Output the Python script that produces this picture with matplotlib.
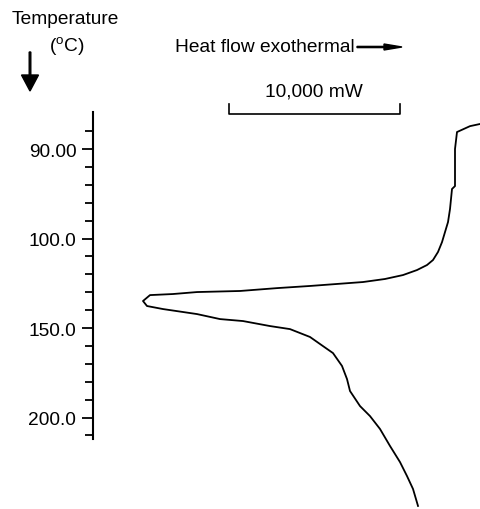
import numpy as np
import matplotlib.pyplot as plt

plt.rcParams['font.family'] = ['Liberation Sans', 'DejaVu Sans']

# 温度轴刻度 (刻度位置为图上的等距格)
tick_pos = [0, 5, 10, 15]
tick_labels = ['90.00', '100.0', '150.0', '200.0']

# 热流曲线 (mW, 刻度格位置)
heat_flow = [22640, 22055, 21294, 21177, 21177, 21002, 20885, 20768, 20592,
             20417, 20183, 19890, 19539, 18954, 18135, 17082, 15795, 12695,
             10764, 8600, 6084, 4680, 3335, 2925, 3159, 4095, 6084, 7430,
             8775, 10355, 11525, 12695, 13455, 14040, 14567, 14859, 15035,
             15620, 16205, 16790, 17375, 17960, 18369, 18720, 19013]
temp_pos = [-1.40, -1.28, -0.95, 0.00, 2.07, 2.23, 3.35, 4.08, 4.64,
            5.20, 5.75, 6.20, 6.48, 6.76, 7.04, 7.26, 7.43, 7.65,
            7.77, 7.93, 7.99, 8.10, 8.16, 8.49, 8.77, 8.94, 9.22, 9.50,
            9.61, 9.89, 10.06, 10.50, 11.01, 11.40, 12.12, 12.85, 13.52,
            14.36, 14.92, 15.64, 16.59, 17.49, 18.27, 18.99, 19.94]

# 标尺 10,000 mW
bar_start = 7950
bar_len = 10000

W, H = 480, 510
fs = 13.8
fig = plt.figure(figsize=(W / 100, H / 100), dpi=100)
ax = fig.add_axes([93 / W, 1 - 440 / H, 1 - 93 / W, (440 - 113) / H])

ax.plot(heat_flow, temp_pos, color='black', lw=1.3, clip_on=False)

ax.set_xlim(0, (W - 93) * 58.5)
ax.set_ylim(16.2, -2.07)

for s in ['top', 'right', 'bottom']:
    ax.spines[s].set_visible(False)
ax.spines['left'].set_linewidth(1.5)
ax.set_xticks([])
ax.set_yticks(tick_pos)
ax.set_yticklabels(tick_labels)
ax.set_yticks(np.arange(-1, 17), minor=True)
ax.tick_params(axis='y', which='major', length=8, width=1.3, labelsize=fs, pad=4)
ax.tick_params(axis='y', which='minor', length=6, width=1.3)

# 标尺
yb, yt = -1.96, -2.51
ax.plot([bar_start, bar_start, bar_start + bar_len, bar_start + bar_len],
        [yt, yb, yb, yt], color='black', lw=1.2, clip_on=False)
ax.text(bar_start + bar_len / 2, -2.75, '10,000 mW', ha='center', va='bottom',
        fontsize=fs)

# 标题与箭头
fig.text(65 / W, 1 - 20 / H, 'Temperature', ha='center', va='center', fontsize=fs)
fig.text(67 / W, 1 - 47 / H, r'($^\mathregular{o}$C)', ha='center', va='center', fontsize=fs)
fig.text(175 / W, 1 - 48 / H, 'Heat flow exothermal', ha='left', va='center', fontsize=fs)

fig.patches.append(plt.matplotlib.patches.FancyArrow(
    30 / W, 1 - 53 / H, 0, -39 / H, width=1.6 / W, head_width=17 / W,
    head_length=16 / H, length_includes_head=True, color='black',
    transform=fig.transFigure))
fig.patches.append(plt.matplotlib.patches.FancyArrow(
    357 / W, 1 - 48 / H, 45 / W, 0, width=1.2 / H, head_width=6 / H,
    head_length=18 / W, length_includes_head=True, color='black',
    transform=fig.transFigure))

fig.savefig('out.png', dpi=100)
